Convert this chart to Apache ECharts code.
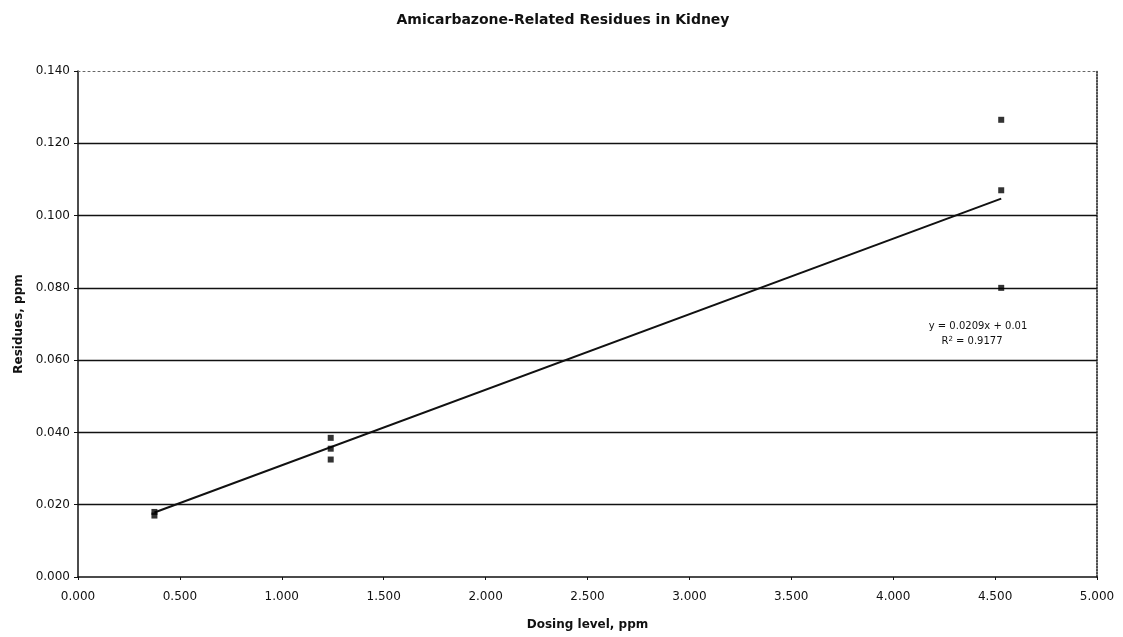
<!DOCTYPE html>
<html>
<head>
<meta charset="utf-8">
<script src="https://cdn.jsdelivr.net/npm/echarts@6/dist/echarts.min.js"></script>
<style>
  html, body { margin: 0; padding: 0; background: #fff; }
  #chart { width: 1123px; height: 637px; }
</style>
</head>
<body>
<div id="chart"></div>
<script>
// Dosing level (ppm) and measured kidney residues (ppm)
const dosing = [0.375, 0.375, 1.24, 1.24, 1.24, 4.53, 4.53, 4.53];
const residues = [0.017, 0.018, 0.0385, 0.0355, 0.0325, 0.1265, 0.107, 0.080];

// Axis ticks
const xTicks = [0, 0.5, 1, 1.5, 2, 2.5, 3, 3.5, 4, 4.5, 5];
const yTicks = [0, 0.02, 0.04, 0.06, 0.08, 0.1, 0.12, 0.14];

// Linear trendline coefficients
const slope = 0.0209;
const intercept = 0.01;
const rSquared = 0.9177;

const titleText = 'Amicarbazone-Related Residues in Kidney';
const xName = 'Dosing level, ppm';
const yName = 'Residues, ppm';

const points = dosing.map((x, i) => [x, residues[i]]);
const xMin = Math.min(...dosing), xMax = Math.max(...dosing);
const trend = [[xMin, slope * xMin + intercept], [xMax, slope * xMax + intercept]];

// interior horizontal gridlines (the top edge is drawn as a dotted border instead)
const gridValues = yTicks.filter(v => v > yTicks[0] && v < yTicks[yTicks.length - 1]);

const font = 'DejaVu Sans, Verdana, sans-serif';
const ink = '#111';
const chart = echarts.init(document.getElementById('chart'));

chart.setOption({
  animation: false,
  backgroundColor: '#ffffff',
  title: {
    text: titleText,
    left: 558, top: 8, textAlign: 'center',
    textStyle: { fontFamily: font, fontSize: 14, fontWeight: 'bold', color: ink }
  },
  grid: { left: 78, right: 26, top: 71, bottom: 60 },
  xAxis: [{
    type: 'value', min: xTicks[0], max: xTicks[xTicks.length - 1], interval: xTicks[1] - xTicks[0],
    name: xName, nameLocation: 'middle', nameGap: 42,
    nameTextStyle: { fontFamily: font, fontSize: 12, fontWeight: 'bold', color: ink },
    axisLine: { show: true, onZero: false, lineStyle: { color: ink, width: 1.5 } },
    axisTick: { show: true, length: 3, lineStyle: { color: ink } },
    axisLabel: { fontFamily: font, fontSize: 12, color: ink, margin: 14,
      formatter: v => v.toFixed(3) },
    splitLine: { show: false }
  }, {
    type: 'value', min: xTicks[0], max: xTicks[xTicks.length - 1], position: 'top',
    axisLine: { show: true, onZero: false, lineStyle: { color: '#666', width: 1, type: [2, 3] } },
    axisTick: { show: false }, axisLabel: { show: false }, splitLine: { show: false }
  }],
  yAxis: [{
    type: 'value', min: yTicks[0], max: yTicks[yTicks.length - 1], interval: yTicks[1] - yTicks[0],
    name: yName, nameLocation: 'middle', nameGap: 53, nameRotate: 90,
    nameTextStyle: { fontFamily: font, fontSize: 12, fontWeight: 'bold', color: ink },
    axisLine: { show: true, onZero: false, lineStyle: { color: ink, width: 1.5 } },
    axisTick: { show: true, length: 4, lineStyle: { color: ink } },
    axisLabel: { fontFamily: font, fontSize: 12, color: ink, margin: 8,
      formatter: v => v.toFixed(3) },
    splitLine: { show: false }
  }, {
    type: 'value', min: yTicks[0], max: yTicks[yTicks.length - 1], position: 'right',
    axisLine: { show: true, onZero: false, lineStyle: { color: ink, width: 1.5, type: [1.5, 1.5] } },
    axisTick: { show: false }, axisLabel: { show: false }, splitLine: { show: false }
  }],
  series: [{
    type: 'scatter', data: points,
    symbol: 'rect', symbolSize: 6,
    itemStyle: { color: '#000' }, z: 5,
    markLine: {
      silent: true, symbol: 'none', label: { show: false },
      lineStyle: { color: ink, width: 1.3, type: 'solid' },
      data: gridValues.map(v => ({ yAxis: v }))
    }
  }, {
    type: 'line', data: trend, symbol: 'none',
    lineStyle: { color: ink, width: 2 }, z: 4
  }],
  graphic: [{
    type: 'text', x: 978, y: 326,
    style: { text: 'y = ' + slope + 'x + ' + intercept, font: '10px ' + font, fill: ink,
      textAlign: 'center', textVerticalAlign: 'middle' }
  }, {
    type: 'text', x: 972, y: 341,
    style: { rich: { a: { fontSize: 10, fontFamily: font, fill: ink },
      s: { fontSize: 7, fontFamily: font, verticalAlign: 'top', lineHeight: 8, fill: ink } },
      text: '{a|R}{s|2}{a| = ' + rSquared + '}', textAlign: 'center', textVerticalAlign: 'middle' }
  }]
});
</script>
</body>
</html>
